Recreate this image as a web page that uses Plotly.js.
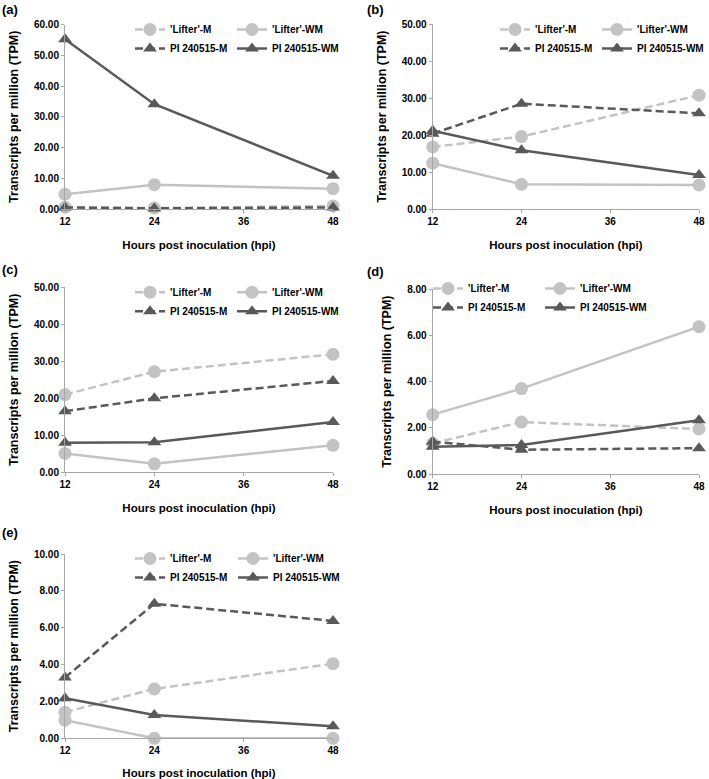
<!DOCTYPE html>
<html>
<head>
<meta charset="utf-8">
<script src="https://cdn.plot.ly/plotly-3.0.1.min.js"></script>
<style>html,body{margin:0;padding:0;background:#fff;}#chart{width:709px;height:779px;}</style>
</head>
<body>
<div id="chart"></div>
<script>
// ---- data ----
var hours = [12, 24, 48];
var xTicks = [12, 24, 36, 48];
var seriesNames = ["'Lifter'-M", "'Lifter'-WM", "PI 240515-M", "PI 240515-WM"];
var panelLabels = ["(a)", "(b)", "(c)", "(d)", "(e)"];
var yMax = [60, 50, 50, 8, 10];
var yStep = [10, 10, 10, 2, 2];

var aLifterM = [0.6, 0.3, 1.0];
var aLifterWM = [4.8, 7.9, 6.6];
var aPIM = [0.5, 0.2, 0.5];
var aPIWM = [55.2, 34.1, 10.8];

var bLifterM = [16.8, 19.6, 30.8];
var bLifterWM = [12.4, 6.7, 6.5];
var bPIM = [20.4, 28.5, 25.9];
var bPIWM = [21.2, 15.9, 9.2];

var cLifterM = [21.0, 27.2, 31.9];
var cLifterWM = [5.1, 2.3, 7.3];
var cPIM = [16.5, 20.0, 24.7];
var cPIWM = [8.0, 8.1, 13.6];

var dLifterM = [1.33, 2.25, 1.95];
var dLifterWM = [2.57, 3.70, 6.38];
var dPIM = [1.40, 1.05, 1.12];
var dPIWM = [1.18, 1.26, 2.33];

var eLifterM = [1.42, 2.68, 4.05];
var eLifterWM = [0.98, 0.0, 0.0];
var ePIM = [3.30, 7.30, 6.37];
var ePIWM = [2.17, 1.27, 0.65];

var panels = [
  [aLifterM, aLifterWM, aPIM, aPIWM],
  [bLifterM, bLifterWM, bPIM, bPIWM],
  [cLifterM, cLifterWM, cPIM, cPIWM],
  [dLifterM, dLifterWM, dPIM, dPIWM],
  [eLifterM, eLifterWM, ePIM, ePIWM]
];

// ---- styling / layout ----
var W = 709, H = 779;
var LIGHT = '#c3c3c3', DARK = '#595959', AXIS = '#a6a6a6';
var FONT = 'Liberation Sans, Arial, sans-serif';
var styles = [
  {color: LIGHT, dash: '8px,4px', symbol: 'circle', size: 13},
  {color: LIGHT, dash: 'solid', symbol: 'circle', size: 13},
  {color: DARK, dash: '8px,4px', symbol: 'triangle-up', size: 12},
  {color: DARK, dash: 'solid', symbol: 'triangle-up', size: 12}
];
// plot-area boxes in px: [left, right, top, bottom]
var boxes = [
  [65, 333, 24.5, 209],
  [432.7, 699, 24.3, 209],
  [65, 333, 287.3, 472.3],
  [432.7, 699, 289.3, 474],
  [65, 333, 554, 738.3]
];
// legend column starts (px) and first-row centre (px)
var legPos = [
  [130, 232, 29],
  [495, 597, 29],
  [130, 232, 291.7],
  [428, 540, 288],
  [130, 233, 558]
];
var labelPos = [[0, 9], [365, 10], [0, 270], [365, 271], [0, 532]];

var traces = [];
var layout = {
  width: W, height: H,
  margin: {l: 0, r: 0, t: 0, b: 0},
  paper_bgcolor: '#fff', plot_bgcolor: '#fff',
  font: {family: FONT, size: 10, color: '#000', weight: 700},
  showlegend: true,
  annotations: []
};

panels.forEach(function (vals, p) {
  var sfx = p === 0 ? '' : String(p + 1);
  var b = boxes[p];
  var xa = {
    domain: [b[0] / W, b[1] / W], anchor: 'y' + sfx,
    range: [12, 48], tickvals: xTicks, ticktext: xTicks.map(String),
    showgrid: false, zeroline: false, showline: true, linecolor: AXIS, linewidth: 1,
    ticks: 'outside', ticklen: 3, tickcolor: AXIS,
    tickfont: {family: FONT, size: 10, weight: 700},
    title: {text: 'Hours post inoculation (hpi)', font: {family: FONT, size: 11.5, weight: 700}, standoff: 14},
    automargin: false, fixedrange: true
  };
  var yticks = [];
  for (var v = 0; v <= yMax[p] + 1e-9; v += yStep[p]) yticks.push(v);
  var ya = {
    domain: [1 - b[3] / H, 1 - b[2] / H], anchor: 'x' + sfx,
    range: [0, yMax[p]], tickvals: yticks, tickformat: '.2f',
    showgrid: false, zeroline: false, showline: true, linecolor: AXIS, linewidth: 1,
    ticks: 'outside', ticklen: 3, tickcolor: AXIS,
    tickfont: {family: FONT, size: 10, weight: 700},
    title: {text: 'Transcripts per million (TPM)', font: {family: FONT, size: 12.5, weight: 700}, standoff: 12},
    automargin: false, fixedrange: true
  };
  layout['xaxis' + sfx] = xa;
  layout['yaxis' + sfx] = ya;

  var lp = legPos[p];
  var legA = 'legend' + (p === 0 ? '' : String(2 * p + 1));
  var legB = 'legend' + String(2 * p + 2);
  var common = {
    orientation: 'v', bgcolor: 'rgba(0,0,0,0)', borderwidth: 0,
    font: {family: FONT, size: 10, weight: 700, color: '#000'},
    xanchor: 'left', yanchor: 'top', tracegroupgap: 0
  };
  layout[legA] = Object.assign({}, common, {x: lp[0] / W, y: 1 - (lp[2] - 14) / H});
  layout[legB] = Object.assign({}, common, {x: lp[1] / W, y: 1 - (lp[2] - 14) / H});

  vals.forEach(function (ys, s) {
    var st = styles[s];
    traces.push({
      type: 'scatter', mode: 'lines+markers',
      x: hours, y: ys, name: seriesNames[s],
      xaxis: 'x' + sfx, yaxis: 'y' + sfx,
      legend: (s % 2 === 0) ? legA : legB,
      line: {color: st.color, width: 2.5, dash: st.dash},
      marker: {color: st.color, symbol: st.symbol, size: st.size},
      cliponaxis: false, hoverinfo: 'x+y+name'
    });
  });

  layout.annotations.push({
    text: panelLabels[p], xref: 'paper', yref: 'paper',
    x: labelPos[p][0] / W, y: 1 - labelPos[p][1] / H,
    xanchor: 'left', yanchor: 'middle', showarrow: false,
    font: {family: FONT, size: 13, weight: 700, color: '#000'}
  });
});

Plotly.newPlot('chart', traces, layout, {displayModeBar: false, staticPlot: true});
</script>
</body>
</html>
